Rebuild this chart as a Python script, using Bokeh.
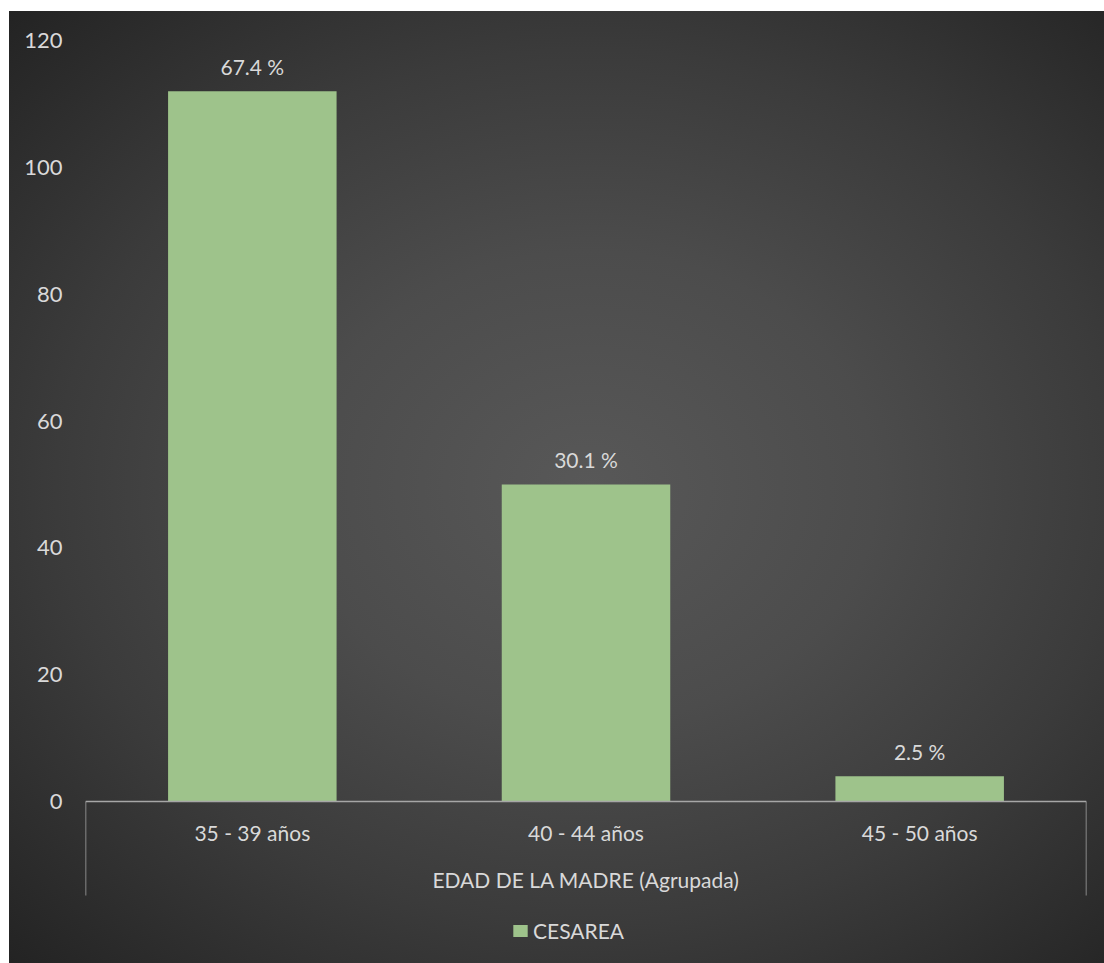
from bokeh.plotting import figure
from bokeh.models import (FactorRange, Range1d, LinearAxis, FixedTicker, Legend,
                          LegendItem, ColumnDataSource)
from bokeh.core.properties import value
from bokeh.embed import file_html
from bokeh.resources import INLINE

# ---- data ----
categories = ["35 - 39 años", "40 - 44 años", "45 - 50 años"]
counts = [112, 50, 4]
pct_labels = ["67.4 %", "30.1 %", "2.5 %"]
series_name = "CESAREA"
axis_title = "EDAD DE LA MADRE (Agrupada)"
y_ticks = [0, 20, 40, 60, 80, 100, 120]

FONT = "Lato"
FS = "21px"
TXT = "#d9d9d9"
AXIS_COL = "#a6a6a6"
BAR_COL = "#9ec38b"

# value axis runs 0..120 over the plot area; the frame also covers the space
# below the category axis (labels + legend), so the range starts below zero
Y_MAX = 120
Y_MIN = -Y_MAX * (963 - 801) / (801 - 40)

src = ColumnDataSource(dict(cat=categories, val=counts, lab=pct_labels))

p = figure(width=1095, height=952,
           x_range=FactorRange(*categories, range_padding=0),
           y_range=Range1d(Y_MIN, Y_MAX),
           x_axis_type=None, y_axis_type=None,
           output_backend="svg", toolbar_location=None,
           min_border_left=76, min_border_right=18,
           min_border_top=29, min_border_bottom=0)
p.margin = (11, 0, 0, 9)
p.styles = {"background": "radial-gradient(ellipse farthest-corner at 53% 50%, "
                          "#585858 0%, #4c4c4c 35%, #3b3b3b 65%, #232323 100%)"}
p.background_fill_alpha = 0
p.border_fill_alpha = 0
p.outline_line_color = None

# y axis
yax = LinearAxis(ticker=FixedTicker(ticks=y_ticks),
                 axis_line_color=None, major_tick_line_color=None,
                 minor_tick_line_color=None, major_tick_out=0, major_tick_in=0,
                 major_label_text_font=FONT, major_label_text_font_size="22px",
                 major_label_text_color=TXT, major_label_standoff=23)
p.add_layout(yax, "left")

# x axis at value 0: category labels at factor centres + group title
n = len(categories)
centers = [i + 0.5 for i in range(n)]
xax = LinearAxis(ticker=FixedTicker(ticks=centers), fixed_location=0,
                 major_label_overrides={c: cat for c, cat in zip(centers, categories)},
                 major_tick_line_color=None, major_tick_out=0, major_tick_in=0,
                 minor_tick_line_color=None, minor_tick_out=0, minor_tick_in=0,
                 axis_line_color=AXIS_COL, axis_line_width=1.5,
                 major_label_text_font=FONT, major_label_text_font_size=FS,
                 major_label_text_color=TXT, major_label_standoff=18,
                 axis_label=axis_title, axis_label_text_font=FONT,
                 axis_label_text_font_size=FS, axis_label_text_font_style="normal",
                 axis_label_text_color=TXT, axis_label_standoff=19)
p.add_layout(xax, "below")

# bracket lines at both ends of the category axis
bracket = LinearAxis(ticker=FixedTicker(ticks=[], minor_ticks=[0, n]), fixed_location=0,
                     axis_line_color=None, major_tick_line_color=None,
                     major_tick_out=0, major_tick_in=0,
                     minor_tick_line_color=AXIS_COL, minor_tick_line_width=1.5,
                     minor_tick_in=0, minor_tick_out=94,
                     major_label_standoff=0, major_label_text_font_size="0px")
p.add_layout(bracket, "below")

bars = p.vbar(x="cat", top="val", width=0.505, source=src,
              fill_color=BAR_COL, line_color=None)

p.text(x="cat", y="val", text="lab", source=src,
       text_align="center", text_baseline="middle", y_offset=-25,
       text_font=value(FONT), text_font_size=value(FS), text_color=TXT)

leg = Legend(items=[LegendItem(label=series_name, renderers=[bars])],
             location=(426, 20), orientation="horizontal",
             glyph_width=18, glyph_height=15, label_standoff=4,
             label_text_font=FONT, label_text_font_size=FS,
             label_text_color=TXT, background_fill_alpha=0,
             border_line_color=None, padding=0, margin=0, spacing=0)
p.add_layout(leg)

open("out.html", "w").write(file_html(p, INLINE))
